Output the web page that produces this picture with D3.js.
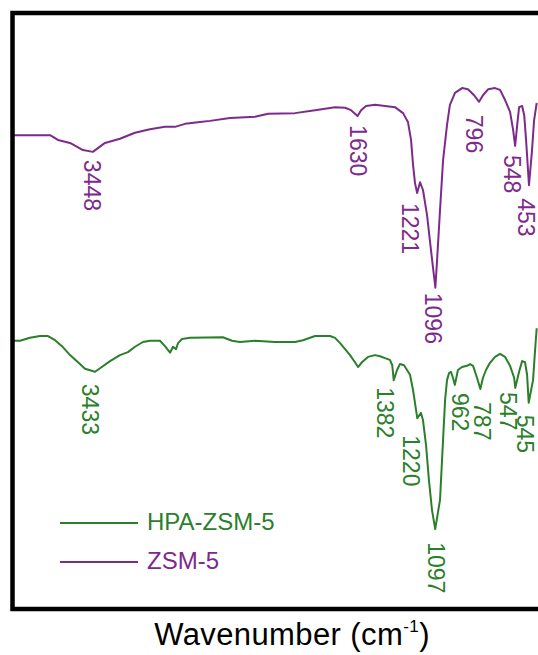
<!DOCTYPE html>
<html>
<head>
<meta charset="utf-8">
<title>FTIR: ZSM-5 and HPA-ZSM-5</title>
<script src="https://d3js.org/d3.v7.min.js"></script>
<style>
  body { margin: 0; background: #fff; }
  svg text { font-family: Helvetica, Arial, "Liberation Sans", sans-serif; }
</style>
</head>
<body>
<svg id="chart" width="538" height="655"></svg>
<script>

// ZSM-5 spectrum, wavenumber (cm-1) and transmittance (a.u.)
var zsmWave = [4000,3742,3688,3605,3516,3448,3365,3262,3159,3056,2953,2884,2815,2712,2644,2506,2334,2245,2060,1922,1785,1716,1675,1630,1606,1572,1510,1442,1373,1318,1284,1263,1249,1236,1221,1201,1181,1153,1126,1096,1084,1064,1043,1016,996,961,913,872,830,796,769,734,686,652,617,583,562,548,534,521,500,486,473,453,432,418,400];
var zsmT    = [79.5,79.5,78.7,78.2,77.0,76.7,78.2,78.9,79.9,80.5,80.9,80.9,81.4,81.7,81.9,82.4,82.6,83.1,83.2,83.7,84.2,84.1,83.7,82.7,83.7,84.4,84.6,84.4,84.2,83.2,81.7,78.7,74.5,71.5,69.8,71.6,70.3,66.1,60.2,53.9,58.6,66.9,75.3,81.2,84.6,86.6,87.4,87.2,86.2,85.1,86.2,87.2,87.4,87.1,85.4,83.4,80.4,77.7,81.2,84.2,84.4,82.9,78.7,71.1,77.0,82.0,84.9];

// HPA-ZSM-5 spectrum
var hpaWave = [4000,3948,3880,3811,3756,3708,3660,3605,3550,3502,3433,3399,3330,3262,3207,3159,3104,3056,2987,2953,2918,2898,2877,2863,2836,2781,2555,2493,2438,2335,2197,2060,2005,1922,1819,1785,1750,1716,1682,1648,1627,1600,1559,1510,1476,1442,1408,1392,1382,1359,1339,1311,1270,1249,1236,1220,1195,1181,1160,1140,1119,1097,1064,1043,1029,1016,1002,989,975,962,941,913,879,858,837,810,787,769,748,721,686,652,617,583,555,547,521,500,480,466,455,425,411,400];
var hpaT    = [45.0,45.0,45.5,45.8,45.8,45.1,44.1,42.6,41.4,40.3,39.8,40.4,41.6,42.6,43.1,44.0,44.8,45.0,45.0,44.1,43.0,44.0,43.6,44.6,45.3,45.5,45.6,45.0,44.8,45.0,44.8,44.8,45.1,45.8,45.8,45.5,44.6,43.6,42.6,41.4,40.6,41.4,42.3,42.6,42.4,42.1,41.8,40.9,38.4,40.1,41.1,40.9,39.3,36.7,34.6,32.0,32.9,31.7,27.5,21.6,16.6,13.4,18.3,28.4,35.1,38.4,39.6,39.8,38.8,37.6,40.1,40.6,40.8,41.1,40.8,38.8,36.9,38.8,40.1,41.3,42.3,42.8,42.3,40.8,38.8,37.1,39.8,41.6,41.4,39.3,34.6,38.4,43.5,47.1];

// peak labels (text) and the band they mark
var zsmPeakText = ["3448","1630","1221","1096","796","548","453"];
var zsmPeakAt   = [3448,1630,1221,1096,796,548,453];
var hpaPeakText = ["3433","1382","1220","1097","962","787","547","545"];
var hpaPeakAt   = [3433,1382,1220,1097,962,787,547,455];

var seriesNames = ["HPA-ZSM-5","ZSM-5"];
var axisTitle = "Wavenumber (cm";

var purple = "#7d2a8c",
	green = "#2b7f2b";

var svg = d3.select("#chart"),
	plotLeft = 12.5, plotTop = 13, plotBottom = 609;

var x = d3.scaleLinear().domain([4000, 400]).range([plotLeft, 536.7]);
var y = d3.scaleLinear().domain([0, 100]).range([plotBottom, plotTop]);

var line = d3.line()
	.x(function(d) { return x(d[0]); })
	.y(function(d) { return y(d[1]); });

var zsm = d3.zip(zsmWave, zsmT),
	hpa = d3.zip(hpaWave, hpaT);

function drawSeries(data, colour) {
	svg.append("path")
		.datum(data)
		.attr("fill", "none")
		.attr("stroke", colour)
		.attr("stroke-width", 2)
		.attr("stroke-linejoin", "round")
		.attr("d", line);
}
drawSeries(zsm, purple);
drawSeries(hpa, green);

// small hand nudges so the labels sit like in the original figure
var zsmNudge = [[-1,8],[0,9],[-7,10],[-2,5],[-5,13],[-3,9],[-3,13]];
var hpaNudge = [[-5,12],[-9,7],[-6,17],[1,13],[5,8],[2,13],[-7,4],[-4,12]];

function drawLabels(data, texts, at, nudge, colour) {
	texts.forEach(function(t, i) {
		var p = d3.least(data, function(d) { return Math.abs(d[0] - at[i]); });
		var lx = x(at[i]) + nudge[i][0],
			ly = y(p[1]) + nudge[i][1];
		svg.append("text")
			.attr("transform", "translate(" + lx + "," + ly + ") rotate(90)")
			.attr("dominant-baseline", "central")
			.attr("fill", colour)
			.style("font-size", "23px")
			.text(t);
	});
}
drawLabels(zsm, zsmPeakText, zsmPeakAt, zsmNudge, purple);
drawLabels(hpa, hpaPeakText, hpaPeakAt, hpaNudge, green);

// frame (right side runs past the picture edge)
svg.append("rect")
	.attr("x", plotLeft).attr("y", plotTop)
	.attr("width", 560).attr("height", plotBottom - plotTop)
	.attr("fill", "none")
	.attr("stroke", "#000")
	.attr("stroke-width", 4.5);

// legend
var legend = svg.append("g");
[green, purple].forEach(function(c, i) {
	var ly = i == 0 ? 523 : 562;
	legend.append("line")
		.attr("x1", 60).attr("x2", 138)
		.attr("y1", ly).attr("y2", ly)
		.attr("stroke", c).attr("stroke-width", 2);
	legend.append("text")
		.attr("x", 147).attr("y", ly + 7)
		.attr("fill", c)
		.style("font-size", "24px")
		.text(seriesNames[i]);
});

// axis title
var title = svg.append("text")
	.attr("x", 292).attr("y", 645)
	.attr("text-anchor", "middle")
	.attr("fill", "#000")
	.style("font-size", "31px")
	.style("letter-spacing", "0.4px")
	.text(axisTitle);
title.append("tspan").attr("dy", -13).style("font-size", "17px").text("-1");
title.append("tspan").attr("dy", 13).text(")");

</script>
</body>
</html>
